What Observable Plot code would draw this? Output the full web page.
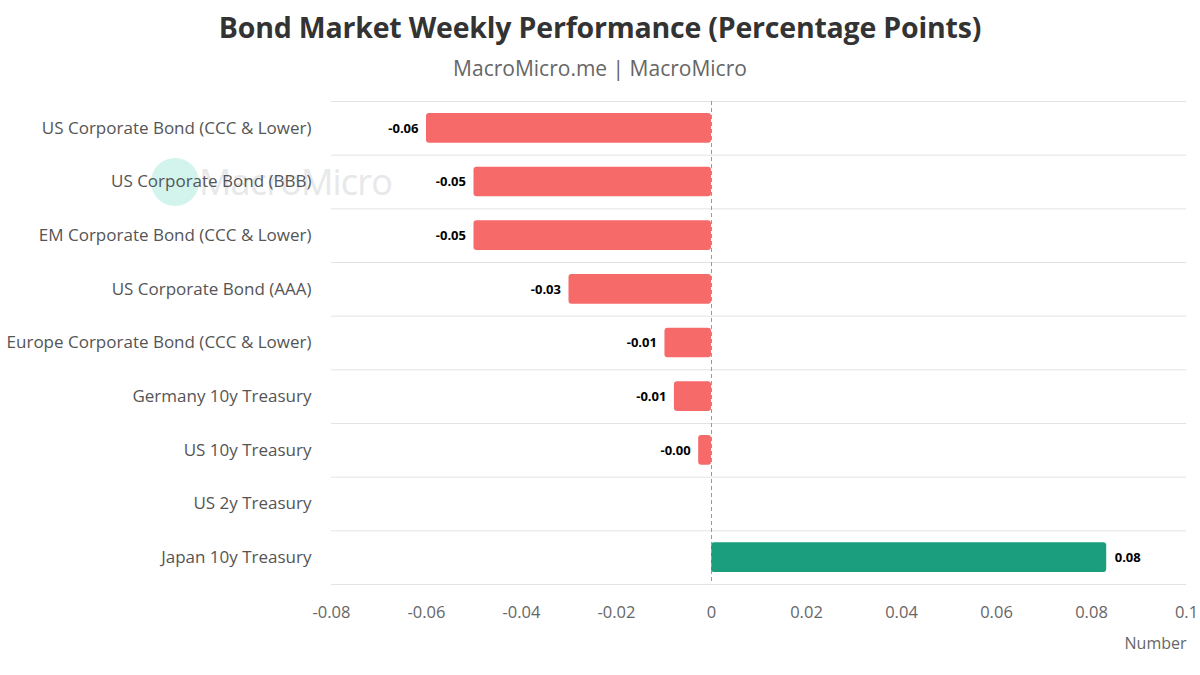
<!DOCTYPE html>
<html>
<head>
<meta charset="utf-8">
<script src="https://cdn.jsdelivr.net/npm/d3@7"></script>
<script src="https://cdn.jsdelivr.net/npm/@observablehq/plot@0.6"></script>
<style>
  html, body { margin: 0; padding: 0; background: #fff; }
  body { width: 1200px; height: 675px; overflow: hidden; font-family: "Open Sans", "Noto Sans", sans-serif; position: relative; }
  #head { height: 90px; overflow: hidden; text-align: center; }
  #title { font-size: 28.5px; font-weight: 700; color: #333; padding-top: 7px; line-height: 40px; letter-spacing: -0.2px; }
  #subtitle { font-size: 21px; color: #666; line-height: 28px; margin-top: 7px; }
  #wm { position: absolute; left: 151px; top: 157px; display: flex; align-items: center; pointer-events: none; }
  #wm .dot { width: 48px; height: 48px; border-radius: 50%; background: #d3f4ec; }
  #wm .txt { font-size: 36px; color: #e6e8ea; margin-left: 0px; letter-spacing: -0.8px; }
  #chart { position: relative; z-index: 1; }
  #chart svg { display: block; }
</style>
</head>
<body>
<div id="head">
  <div id="title">Bond Market Weekly Performance (Percentage Points)</div>
  <div id="subtitle">MacroMicro.me | MacroMicro</div>
</div>
<div id="wm"><div class="dot"></div><div class="txt">MacroMicro</div></div>
<div id="chart"></div>
<script>
const categories = [
  "US Corporate Bond (CCC & Lower)",
  "US Corporate Bond (BBB)",
  "EM Corporate Bond (CCC & Lower)",
  "US Corporate Bond (AAA)",
  "Europe Corporate Bond (CCC & Lower)",
  "Germany 10y Treasury",
  "US 10y Treasury",
  "US 2y Treasury",
  "Japan 10y Treasury"
];
const values = [-0.060, -0.050, -0.050, -0.030, -0.0098, -0.0078, -0.0027, 0, 0.0832];
const xTicks = [-0.08, -0.06, -0.04, -0.02, 0, 0.02, 0.04, 0.06, 0.08, 0.1];

const data = categories.map((c, i) => ({name: c, value: values[i]}));
const barData = data.filter(d => d.value !== 0);
const negData = barData.filter(d => d.value < 0);
const posData = barData.filter(d => d.value > 0);

const W = 1200, H = 585;
const mTop = 11, mBottom = 91;
const bw = (H - mTop - mBottom) / categories.length;

const fmtTick = d => String(+d.toFixed(2));
const fmtVal = v => (v < 0 ? "-" : "") + Math.abs(v).toFixed(2);

const chart = Plot.plot({
  width: W,
  height: H,
  marginTop: mTop,
  marginBottom: mBottom,
  marginLeft: 331,
  marginRight: 14,
  style: {fontFamily: "'Open Sans', 'Noto Sans', sans-serif", background: "transparent", overflow: "visible"},
  x: {domain: [-0.08, 0.1], ticks: xTicks, tickFormat: fmtTick, label: null},
  y: {domain: categories, padding: 0, round: false, label: null},
  marks: [
    Plot.ruleY(categories, {y: d => d, dy: -bw / 2, stroke: "#e3e3e3", strokeWidth: 1}),
    Plot.ruleY(categories.slice(-1), {y: d => d, dy: bw / 2, stroke: "#e3e3e3", strokeWidth: 1}),
    Plot.barX(barData, {
      x: "value", y: "name",
      fill: d => d.value < 0 ? "#f76a6a" : "#1a9e7e",
      insetTop: 12, insetBottom: 12, rx: 3
    }),
    Plot.ruleX([0], {stroke: "#9a9a9a", strokeDasharray: "4,3", strokeWidth: 1}),
    Plot.text(negData, {
      x: "value", y: "name", text: d => fmtVal(d.value),
      textAnchor: "end", dx: -8,
      fontWeight: 700, fontSize: 13, fill: "#000"
    }),
    Plot.text(posData, {
      x: "value", y: "name", text: d => fmtVal(d.value),
      textAnchor: "start", dx: 8,
      fontWeight: 700, fontSize: 13, fill: "#000"
    }),
    Plot.axisX({ticks: xTicks, tickFormat: fmtTick, tickSize: 0, tickPadding: 22, fontSize: 16.5, fill: "#666", label: null}),
    Plot.axisY({tickSize: 0, tickPadding: 20, fontSize: 17, fill: "#555", label: null}),
    Plot.text(["Number"], {frameAnchor: "bottom-right", dy: 64, text: d => d, fontSize: 16, fill: "#666", textAnchor: "end"})
  ]
});
document.getElementById("chart").appendChild(chart);
</script>
</body>
</html>
